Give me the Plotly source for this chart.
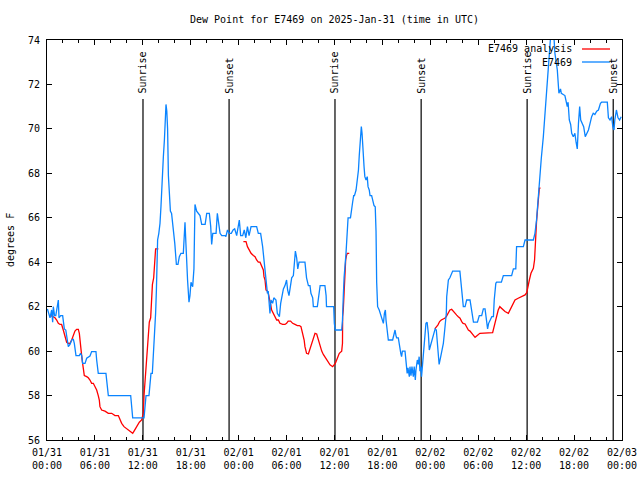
import plotly.graph_objects as go
import pandas as pd

START = pd.Timestamp("2025-01-31 00:00")
END = START + pd.Timedelta(hours=72)

TITLE = "Dew Point for E7469 on 2025-Jan-31 (time in UTC)"
Y_LABEL = "degrees F"
OBS_NAME = "E7469"
ANA_NAME = "E7469 analysis"

# Observations: hours since 2025-01-31 00:00 UTC, dew point (F)
obs_hours = [
    0.05, 0.17, 0.38, 0.58, 0.71, 0.79, 0.95, 1.1, 1.3, 1.42, 1.5, 1.71, 1.96, 2.04, 2.17, 2.35,
    2.46, 2.67, 2.88, 3.09, 3.3, 3.42, 3.63, 4.05, 4.2, 4.34, 4.46, 4.76, 4.97, 5.17, 5.38, 5.59,
    6.13, 6.22, 6.42, 7.38, 7.55, 7.68, 10.48, 10.64, 10.73, 12.15, 12.3, 12.4, 12.77, 12.9, 13.02,
    13.19, 13.3, 13.5, 13.6, 13.7, 13.85, 14.0, 14.15, 14.27, 14.36, 14.44, 14.57, 14.7, 14.77,
    14.86, 14.9, 15.0, 15.1, 15.2, 15.3, 15.45, 15.6, 15.8, 16.0, 16.2, 16.4, 16.57, 16.77, 17.07,
    17.28, 17.4, 17.5, 17.6, 17.78, 17.9, 18.03, 18.24, 18.4, 18.53, 18.74, 18.95, 19.16, 19.37,
    19.8, 20.0, 20.33, 20.5, 20.62, 20.76, 21.17, 21.33, 21.5, 21.67, 21.88, 22.3, 22.4, 22.6,
    22.83, 23.08, 23.3, 23.5, 23.75, 23.95, 24.08, 24.25, 24.5, 24.7, 24.9, 25.1, 25.3, 25.55,
    26.25, 26.46, 26.75, 27.0, 27.2, 27.45, 27.6, 27.7, 27.84, 27.92, 28.05, 28.25, 28.4, 28.67,
    28.84, 29.1, 29.26, 29.43, 29.6, 29.8, 30.0, 30.13, 30.3, 30.43, 30.64, 30.85, 31.0, 31.1,
    31.26, 31.4, 31.56, 32.3, 32.5, 32.73, 32.93, 33.05, 33.27, 33.35, 33.85, 34.0, 34.2, 34.8,
    34.95, 35.0, 35.9, 35.98, 36.1, 36.9, 37.0, 37.1, 37.2, 37.44, 37.5, 37.6, 37.7, 38.0, 38.15,
    38.27, 38.4, 38.5, 38.7, 38.86, 39.0, 39.1, 39.2, 39.28, 39.36, 39.45, 39.53, 39.6, 39.7,
    39.8, 39.95, 40.1, 40.2, 40.35, 40.45, 40.65, 40.8, 40.95, 41.1, 41.2, 41.28, 41.4, 41.6,
    41.8, 41.95, 42.12, 42.25, 42.37, 42.45, 42.6, 42.74, 43.28, 43.45, 43.58, 43.7, 43.78, 43.99,
    44.1, 44.3, 44.4, 44.5, 44.83, 44.96, 45.1, 45.2, 45.37, 45.45, 45.58, 45.7, 45.87, 45.98,
    46.12, 46.2, 46.37, 46.5, 46.6, 46.7, 46.8, 46.9, 47.04, 47.12, 47.3, 47.45, 47.6, 47.75,
    47.87, 48.05, 48.17, 48.4, 48.6, 48.75, 48.87, 49.0, 49.1, 49.3, 49.46, 49.63, 49.8, 50.0,
    50.05, 50.26, 50.45, 50.67, 50.8, 51.7, 51.9, 52.05, 52.13, 52.35, 52.55, 52.97, 53.2, 53.4,
    53.9, 54.13, 54.43, 54.64, 54.85, 55.0, 55.17, 55.3, 55.5, 55.7, 55.9, 56.0, 56.2, 56.3, 56.9,
    57.14, 58.18, 58.4, 58.7, 58.8, 59.65, 59.86, 60.9, 61.1, 61.3, 61.5, 61.7, 61.9, 62.15,
    62.36, 62.57, 62.8, 63.0, 63.15, 63.4, 63.6, 63.9, 64.0, 64.1, 64.3, 64.4, 64.85, 65.0, 65.15,
    65.25, 65.4, 65.57, 65.7, 65.9, 66.1, 66.25, 66.4, 66.55, 66.7, 66.83, 67.0, 67.2, 67.4, 67.6,
    67.8, 68.0, 68.2, 68.4, 68.6, 68.83, 69.05, 69.3, 69.45, 70.16, 70.3, 70.5, 70.7, 70.85, 71.0,
    71.1, 71.3, 71.5, 71.7, 71.9,
]
obs_dewpt = [
    61.9, 61.7, 61.5, 61.85, 61.3, 62.0, 61.6, 61.6, 62.0, 62.3, 61.5, 61.6, 61.6, 61.25, 61.0, 60.95,
    60.75, 60.2, 60.3, 60.5, 60.53, 60.35, 59.8, 59.8, 59.9, 59.8, 59.45, 59.45, 59.68, 59.75, 59.78, 59.98,
    59.98, 59.6, 59.0, 59.0, 58.55, 58.0, 58.0, 57.5, 57.0, 57.0, 57.5, 58.0, 58.0, 58.55, 59.0,
    59.0, 59.6, 60.8, 61.7, 62.75, 65.0, 65.3, 65.75, 66.5, 67.4, 68.2, 68.75, 69.5, 70.0,
    70.7, 71.1, 70.8, 70.0, 67.9, 67.0, 66.3, 66.2, 65.6, 64.85, 63.9, 63.9, 64.25, 64.4, 64.4,
    65.8, 64.8, 63.7, 63.2, 62.2, 62.5, 63.1, 62.9, 63.7, 66.6, 66.3, 66.2, 66.1, 65.7,
    65.7, 66.2, 66.2, 65.6, 64.8, 65.3, 65.3, 66.2, 65.75, 65.3, 65.2, 65.2, 65.15, 65.45,
    65.3, 65.3, 65.45, 65.5, 65.2, 65.6, 65.9, 65.2, 65.2, 65.45, 65.1, 65.6, 65.2, 65.6,
    65.6, 65.3, 65.3, 64.7, 63.9, 63.2, 62.6, 62.7, 61.9, 61.7, 62.3, 62.15, 62.4, 62.3,
    61.7, 61.55, 62.15, 62.5, 62.8, 62.95, 63.2, 62.75, 62.5, 62.8, 63.3, 63.4, 64.0, 64.5,
    64.2, 63.7, 64.0, 64.0, 63.3, 62.95, 62.95, 62.6, 62.4, 62.0, 62.0, 62.5, 62.95, 62.95,
    62.5, 62.0, 62.0, 61.25, 60.95, 60.95, 61.4, 62.45, 63.3, 64.4, 64.8, 65.3, 66.0, 66.0, 66.3,
    66.7, 67.0, 67.0, 67.25, 67.7, 68.15, 68.8, 69.35, 69.9, 70.1, 69.8, 69.05, 68.75, 68.3,
    67.85, 67.7, 67.85, 67.4, 67.25, 67.0, 67.0, 66.8, 66.55, 66.5, 65.4, 63.1, 62.0, 61.85,
    61.6, 61.5, 61.25, 61.7, 61.85, 61.4, 60.95, 60.5, 60.5, 60.8, 60.95, 60.7, 60.6, 60.6,
    60.3, 59.9, 59.75, 60.0, 60.0, 59.3, 59.0, 59.25, 58.85, 59.3, 58.9, 59.3, 58.85, 59.3,
    58.7, 59.15, 59.6, 59.4, 59.75, 59.1, 59.3, 58.85, 59.45, 60.1, 60.8, 61.25, 61.3, 60.8,
    60.05, 60.3, 60.5, 60.8, 61.0, 60.95, 60.5, 60.05, 59.4, 59.75, 60.05, 60.35, 60.95, 61.7,
    62.45, 63.2, 63.3, 63.45, 63.6, 63.6, 62.9, 62.4, 62.0, 62.0, 62.3, 62.3, 61.8, 61.3,
    61.3, 61.6, 61.6, 61.9, 61.9, 61.4, 61.0, 61.25, 61.4, 61.55, 61.55, 62.3, 63.05, 63.1, 63.1,
    63.4, 63.4, 63.7, 63.7, 64.7, 64.7, 65.0, 65.0, 65.3, 65.9, 67.0, 68.0, 68.7, 69.65,
    70.6, 71.75, 72.8, 73.7, 74.6, 74.6, 73.4, 72.65, 72.05, 71.6, 71.8, 71.6, 71.5, 71.15, 71.0,
    71.2, 70.4, 70.2, 69.8, 69.65, 69.8, 69.4, 69.1, 70.25, 71.0, 70.4, 70.25, 70.1, 69.65, 69.8,
    69.95, 70.25, 70.55, 70.7, 70.65, 70.8, 70.85, 71.15, 71.2, 71.2, 70.5, 70.4, 70.55, 70.1, 69.95,
    70.4, 70.85, 70.5, 70.4, 70.55,
]

# Analysis: hours since 2025-01-31 00:00 UTC, dew point (F); None marks gaps
ana_hours = [
    0.5, 1.0, 1.21, 1.42, 1.63, 1.83, 2.04, 2.25, 2.46, 2.67, 2.88, 3.09, 3.3, 3.5, 3.71, 3.92,
    4.05, 4.13, 4.26, 4.34, 4.46, 4.54, 4.67, 4.97, 5.17, 5.38, 5.59, 5.8, 6.0, 6.22, 6.42, 6.55,
    6.63, 6.84, 7.26, 7.68, 8.1, 8.51, 8.93, 9.14, 9.35, 9.64, 9.97, 10.39, 10.73, 10.9, 11.23,
    11.56, 11.85, 11.98, 12.06, 12.15, 12.27, 12.4, 12.48, 12.56, 12.69, 12.81, 12.98, 13.1, 13.2,
    13.36, 13.44, 13.6, 13.94,
    None,
    24.59, 24.92, 25.1, 25.33, 25.55, 25.84, 26.05, 26.25, 26.46, 26.67, 26.88, 27.09, 27.17, 27.3,
    27.42, 27.59, 27.71, 27.84, 28.0, 28.13, 28.34, 28.55, 28.76, 28.97, 29.17, 29.5, 29.8, 30.0,
    30.2, 30.5, 30.76, 31.05, 31.35, 31.6, 31.8, 32.0, 32.2, 32.3, 32.5, 32.73, 32.93, 33.14,
    33.35, 33.56, 33.77, 33.98, 34.18, 34.4, 34.6, 34.8, 35.02, 35.44, 35.77, 35.94, 36.1, 36.27,
    36.48, 36.6, 36.9, 37.0, 37.02, 37.1, 37.2, 37.3, 37.4, 37.5, 37.6, 37.85,
    None,
    48.6, 48.66, 48.96, 49.16, 49.37, 49.58, 49.8, 50.0, 50.26, 50.45, 50.67, 50.9, 51.1, 51.3,
    51.5, 51.72, 51.93, 52.1, 52.35, 52.55, 52.76, 52.97, 53.18, 53.4, 53.6, 53.8, 54.2, 55.8,
    56.0, 56.2, 56.5, 56.7, 56.9, 57.35, 57.77, 57.98, 58.3, 58.6, 59.0, 59.44, 59.86, 60.07,
    60.19, 60.4, 60.6, 60.75, 60.9, 61.05, 61.16, 61.3, 61.45, 61.52, 61.65, 61.8,
]
ana_dewpt = [
    61.6, 61.5, 61.4, 61.25, 61.2, 61.2, 60.95, 60.7, 60.4, 60.35, 60.35, 60.5, 60.7, 60.9, 60.98, 60.98,
    60.8, 60.4, 60.05, 59.8, 59.45, 59.2, 58.9, 58.85, 58.8, 58.7, 58.55, 58.55, 58.4, 58.25, 58.0, 57.8,
    57.5, 57.35, 57.3, 57.2, 57.2, 57.1, 57.1, 56.9, 56.75, 56.6, 56.5, 56.4, 56.3, 56.4, 56.6,
    56.8, 56.9, 57.1, 57.2, 58.0, 58.7, 59.2, 59.6, 60.2, 60.9, 61.3, 61.5, 62.3, 63.0,
    63.3, 63.8, 64.6, 64.6,
    None,
    64.93, 64.93, 64.7, 64.55, 64.4, 64.3, 64.25, 64.1, 64.0, 64.0, 63.8, 63.65, 63.35, 63.2,
    62.75, 62.7, 62.6, 62.3, 62.1, 61.85, 61.7, 61.5, 61.4, 61.4, 61.25, 61.2, 61.2, 61.25,
    61.35, 61.35, 61.25, 61.2, 61.15, 61.15, 61.1, 60.8, 60.5, 60.2, 59.9, 59.87, 60.1, 60.35,
    60.65, 60.8, 60.77, 60.5, 60.2, 60.0, 59.85, 59.75, 59.6, 59.38, 59.3, 59.38, 59.45, 59.6,
    59.85, 59.9, 60.0, 60.35, 61.55, 61.85, 62.6, 63.5, 64.1, 64.3, 64.4, 64.4,
    None,
    61.0, 61.05, 61.18, 61.33, 61.4, 61.43, 61.48, 61.55, 61.7, 61.85, 61.88, 61.77, 61.7, 61.62,
    61.55, 61.48, 61.33, 61.25, 61.22, 61.1, 60.95, 60.9, 60.8, 60.7, 60.62, 60.68, 60.8, 60.83,
    61.1, 61.48, 61.85, 62.0, 61.93, 61.78, 61.7, 61.85, 62.08, 62.3, 62.38, 62.45, 62.53, 62.63,
    62.9, 63.2, 63.5, 63.65, 63.73, 64.1, 65.0, 65.83, 66.5, 66.98, 67.33, 67.33,
]

sun_event_hours = [12.02, 22.8, 36.06, 46.85, 60.12, 70.9]
sun_event_labels = ["Sunrise", "Sunset", "Sunrise", "Sunset", "Sunrise", "Sunset"]

Y_MIN, Y_MAX = 56, 74
SUN_LINE_TOP = 71.35

FONT = "DejaVu Sans Mono"
RED = "#ff0000"
BLUE = "#0a84ff"


def to_time(hours):
    return [None if h is None else START + pd.Timedelta(hours=h) for h in hours]


fig = go.Figure()
fig.add_trace(go.Scatter(x=to_time(ana_hours), y=ana_dewpt, mode="lines", name=ANA_NAME,
                         line=dict(color=RED, width=1.3), connectgaps=False))
fig.add_trace(go.Scatter(x=to_time(obs_hours), y=obs_dewpt, mode="lines", name=OBS_NAME,
                         line=dict(color=BLUE, width=1.3)))

for h, lab in zip(sun_event_hours, sun_event_labels):
    t = START + pd.Timedelta(hours=h)
    fig.add_shape(type="line", xref="x", yref="y", x0=t, x1=t, y0=Y_MIN, y1=SUN_LINE_TOP,
                  line=dict(color="black", width=1.2), layer="below")
    fig.add_annotation(x=t, y=SUN_LINE_TOP + 0.15, xref="x", yref="y", text=lab, textangle=-90,
                       showarrow=False, xanchor="center", yanchor="bottom",
                       font=dict(family=FONT, size=10, color="black"))

# Legend drawn gnuplot-style (text right, sample line to its right)
PL, PR = 47, 622
PT, PB = 40, 440
def px(x):
    return (x - PL) / (PR - PL)
def py(y):
    return (PB - y) / (PB - PT)

for name, color, ypix in [(ANA_NAME, RED, 49), (OBS_NAME, BLUE, 62)]:
    fig.add_annotation(x=px(574), y=py(ypix), xref="paper", yref="paper", text=name,
                       showarrow=False, xanchor="right", yanchor="middle",
                       font=dict(family=FONT, size=10, color="black"))
    fig.add_shape(type="line", xref="paper", yref="paper", x0=px(582), x1=px(610),
                  y0=py(ypix), y1=py(ypix), line=dict(color=color, width=1.3))

fig.add_annotation(x=px(10), y=0.5, xref="paper", yref="paper", text=Y_LABEL, textangle=-90,
                   showarrow=False, xanchor="center", yanchor="middle",
                   font=dict(family=FONT, size=10, color="black"))

axis_common = dict(showline=True, linecolor="black", linewidth=1, mirror="allticks",
                   ticks="inside", tickcolor="black", ticklen=5, tickwidth=1,
                   showgrid=False, zeroline=False, automargin=False,
                   tickfont=dict(family=FONT, size=10, color="black"))

fig.update_layout(
    width=640, height=480,
    margin=dict(l=PL, r=640 - PR, t=PT, b=480 - PB),
    paper_bgcolor="white", plot_bgcolor="white",
    showlegend=False,
    title=dict(text=TITLE, x=0.5, xref="paper", xanchor="center", y=1 - 19 / 480,
               yref="container", yanchor="middle",
               font=dict(family=FONT, size=10, color="black")),
    xaxis=dict(type="date", range=[START, END], tickformat="%m/%d<br>%H:%M",
               dtick=6 * 3600 * 1000, tick0=START, ticklabelstandoff=3,
               minor=dict(dtick=2 * 3600 * 1000, ticks="inside", ticklen=3,
                          tickcolor="black", showgrid=False),
               **axis_common),
    yaxis=dict(range=[Y_MIN, Y_MAX], dtick=2, tick0=56, ticklabelstandoff=4, **axis_common),
)

fig.write_html("out.html", config={"displayModeBar": False},
               post_script="document.body.style.margin='0';")
